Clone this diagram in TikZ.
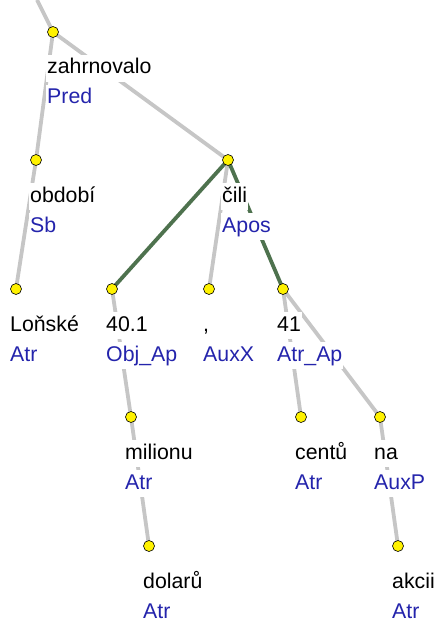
\documentclass[tikz,border=0pt]{standalone}
\usepackage{fontspec}
\setmainfont{Liberation Sans}
\usetikzlibrary{backgrounds}
\definecolor{edgegray}{RGB}{198,198,198}
\definecolor{apgreen}{RGB}{78,114,78}
\definecolor{afunblue}{RGB}{36,36,172}

\begin{document}
\begin{tikzpicture}[x=1pt, y=-1pt,
	every node/.style={font=\fontsize{21.3}{25}\selectfont},
	dot/.style={circle, fill=yellow, draw=black, line width=0.6pt, minimum size=11pt, inner sep=0pt},
	lbl/.style={anchor=base west, fill=white, inner xsep=1pt, inner ysep=3pt, text height=16pt, text depth=5pt},
	word/.style={lbl, text=black},
	afun/.style={lbl, text=afunblue},
	edge/.style={edgegray, line width=3.8pt},
	apedge/.style={apgreen, line width=3.8pt}]
	\useasboundingbox (0,0) rectangle (438,623);
	\foreach \n/\x/\y/\w/\f in {zahr/53/32/zahrnovalo/Pred, obdobi/36/160/období/Sb, cili/228/160/čili/Apos,
		lonske/16/289/Loňské/Atr, num/112/289/40.1/Obj\_Ap, comma/209/289/{,}/AuxX, cnum/283/289/41/Atr\_Ap,
		milionu/131/417/milionu/Atr, centu/301/417/centů/Atr, na/380/417/na/AuxP,
		dolaru/149/546/dolarů/Atr, akcii/398/546/akcii/Atr} {
		\node[dot] (\n) at (\x,\y) {};
		\node[word] (\n-w) at (\x-7,\y+42) {\w};
		\node[afun] (\n-f) at (\x-7,\y+72) {\f};
	}
	\coordinate (up) at (37,0);
	\begin{pgfonlayer}{background}
		\draw[edge] (up) -- (zahr.center);
		\draw[edge] (zahr.center) -- (obdobi.center);
		\draw[edge] (zahr.center) -- (cili.center);
		\draw[edge] (obdobi.center) -- (lonske.center);
		\draw[edge] (cili.center) -- (comma.center);
		\draw[edge] (num.center) -- (milionu.center);
		\draw[edge] (milionu.center) -- (dolaru.center);
		\draw[edge] (cnum.center) -- (centu.center);
		\draw[edge] (cnum.center) -- (na.center);
		\draw[edge] (na.center) -- (akcii.center);
		\draw[apedge] (cili.center) -- (num.center);
		\draw[apedge] (cili.center) -- (cnum.center);
	\end{pgfonlayer}
\end{tikzpicture}
\end{document}
